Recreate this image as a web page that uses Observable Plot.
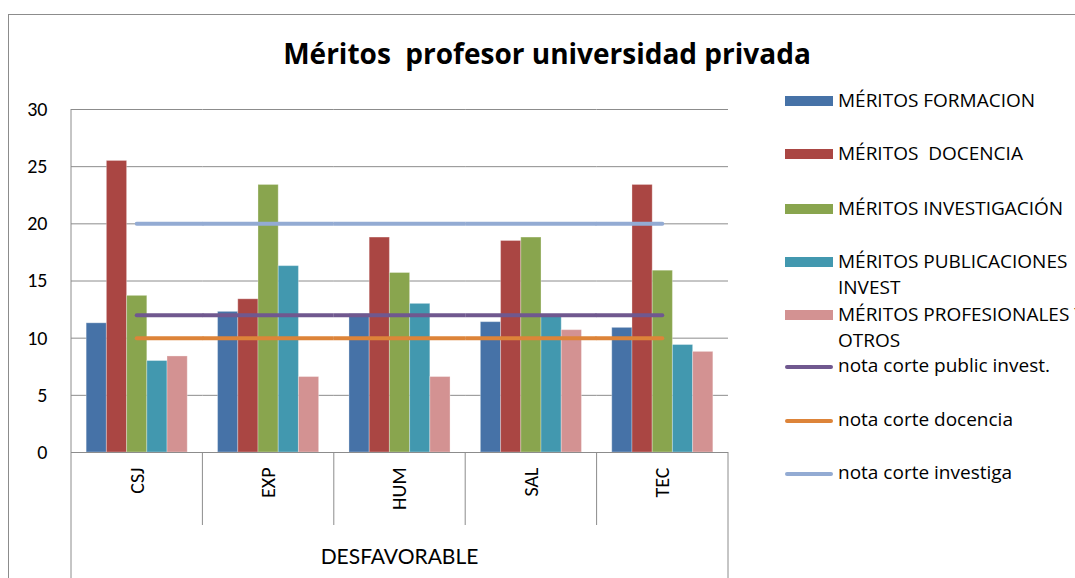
<!DOCTYPE html>
<html><head><meta charset="utf-8">
<script src="https://cdn.jsdelivr.net/npm/d3@7"></script>
<script src="https://cdn.jsdelivr.net/npm/@observablehq/plot@0.6"></script>
<style>
body{margin:0;background:#fff;font-family:Carlito,Lato,"Open Sans",sans-serif;color:#000;}
#wrap{position:relative;width:1075px;height:578px;overflow:hidden;background:#fff;}
#border{position:absolute;left:8px;top:14px;width:1300px;height:800px;border:1px solid #8c8c8c;}
#title{position:absolute;top:39px;left:0;width:1094px;text-align:center;font-family:"Open Sans",sans-serif;font-weight:bold;font-size:28px;white-space:pre;line-height:28px;}
#chart{position:absolute;left:0;top:0;}
#group{position:absolute;left:71px;width:657px;top:543px;text-align:center;font-family:Lato,sans-serif;font-size:21px;line-height:26px;}
.leg{position:absolute;left:785px;font-family:"Open Sans",sans-serif;font-size:19px;white-space:pre;}
.sw{position:absolute;left:0;width:48px;}
.lt{position:absolute;left:53px;top:0;}
</style></head>
<body>
<div id="wrap">
  <div id="border"></div>
  <div id="chart"></div>
  <div id="title"></div>
  <div id="group"></div>
  <div id="legend"></div>
</div>
<script>
// ---- data ----
const categories = ["CSJ", "EXP", "HUM", "SAL", "TEC"];
const seriesNames = ["MÉRITOS FORMACION", "MÉRITOS  DOCENCIA", "MÉRITOS INVESTIGACIÓN", "MÉRITOS PUBLICACIONES INVEST", "MÉRITOS PROFESIONALES Y OTROS"];
const formacion     = [11.3, 12.3, 12.1, 11.4, 10.9];
const docencia      = [25.5, 13.4, 18.8, 18.5, 23.4];
const investigacion = [13.7, 23.4, 15.7, 18.8, 15.9];
const publicaciones = [8.0, 16.3, 13.0, 11.9, 9.4];
const profesionales = [8.4, 6.6, 6.6, 10.7, 8.8];
const lineNames  = ["nota corte public invest.", "nota corte docencia", "nota corte investiga"];
const lineValues = [12, 10, 20];
const yTicks = [0, 5, 10, 15, 20, 25, 30];
const groupLabel = "DESFAVORABLE";
const titleText = "Méritos  profesor universidad privada";
const legendLines = [["MÉRITOS FORMACION"], ["MÉRITOS  DOCENCIA"], ["MÉRITOS INVESTIGACIÓN"], ["MÉRITOS PUBLICACIONES", "INVEST"], ["MÉRITOS PROFESIONALES Y", "OTROS"]];

// ---- styles ----
const barColors = ["#4672A7", "#AA4643", "#89A54E", "#4298AF", "#D39292"];
const lineColors = ["#70588F", "#DD8439", "#93ABD3"];

const seriesValues = [formacion, docencia, investigacion, publicaciones, profesionales];
const barRows = [];
categories.forEach((c, i) => seriesNames.forEach((s, j) => barRows.push({cat: c, series: s, value: seriesValues[j][i]})));
const ruleRows = [];
lineNames.forEach((n, k) => categories.forEach((c, i) => ruleRows.push({cat: c, name: n, value: lineValues[k], pos: i})));
const last = categories.length - 1;
const midSeries = seriesNames[Math.floor(seriesNames.length / 2)];

const W = 750, H = 578, mL = 71, mR = 22, mT = 109, mB = 126;
const facetW = (W - mL - mR) / categories.length;
const outerPad = 0.75;
const bw = facetW / (seriesNames.length + 2 * outerPad);
const grid = "#8c8c8c";
const lineStyle = {fx: "cat", y: "value", stroke: "name", strokeWidth: 4, strokeLinecap: "round"};

const chart = Plot.plot({
  width: W, height: H,
  marginLeft: mL, marginRight: mR, marginTop: mT, marginBottom: mB,
  style: {fontFamily: "Carlito, Lato, 'Open Sans', sans-serif", color: "#000", background: "transparent"},
  fx: {domain: categories, padding: 0, round: false},
  x: {domain: seriesNames, paddingInner: 0, paddingOuter: outerPad, round: false, axis: null},
  y: {domain: [0, 30]},
  color: {domain: [...seriesNames, ...lineNames], range: [...barColors, ...lineColors]},
  marks: [
    Plot.gridY(yTicks, {stroke: grid, strokeOpacity: 1}),
    Plot.barY(barRows, {fx: "cat", x: "series", y: "value", fill: "series", stroke: "white", strokeOpacity: 0.3, strokeWidth: 1}),
    Plot.ruleY(ruleRows.filter(d => d.pos > 0 && d.pos < last), {...lineStyle, strokeLinecap: "butt"}),
    Plot.ruleY(ruleRows.filter(d => d.pos === 0), {...lineStyle, x1: () => midSeries, x2: () => seriesNames[seriesNames.length - 1], insetLeft: bw / 2, insetRight: -outerPad * bw}),
    Plot.ruleY(ruleRows.filter(d => d.pos === last), {...lineStyle, x1: () => seriesNames[0], x2: () => midSeries, insetLeft: -outerPad * bw, insetRight: bw / 2}),
    Plot.ruleY([0], {stroke: grid}),
    Plot.axisY(yTicks, {tickSize: 0, tickPadding: 24, fontSize: 20, label: null}),
    Plot.axisFx({anchor: "bottom", tickSize: 0, tickRotate: -90, tickPadding: 15, fontSize: 20, label: null})
  ]
});
document.getElementById("chart").appendChild(chart);

// structural lines of the category table, positioned from Plot's own scales
const fxS = chart.scale("fx"), yS = chart.scale("y");
const y0 = yS.apply(0), yTop = yS.apply(30);
const xl = fxS.apply(categories[0]), xr = fxS.apply(categories[last]) + fxS.bandwidth;
const g = d3.select(chart).append("g").attr("stroke", grid).attr("stroke-width", 1);
g.append("line").attr("x1", xl).attr("x2", xl).attr("y1", yTop).attr("y2", H);
g.append("line").attr("x1", xr).attr("x2", xr).attr("y1", y0).attr("y2", H);
categories.slice(1).forEach(c => {
  const x = fxS.apply(c);
  g.append("line").attr("x1", x).attr("x2", x).attr("y1", y0).attr("y2", y0 + 73);
});

document.getElementById("title").textContent = titleText;
document.getElementById("group").textContent = groupLabel;

// legend (Open Sans 19px: baseline offset depends on line-height)
const fs = 19;
const baseOff = lh => (lh - 1.362 * fs) / 2 + 1.069 * fs;
const legend = document.getElementById("legend");
const capCenters = [101, 154, 209, 262, 315];
const lineCenters = [367, 421, 474];
legendLines.forEach((lines, i) => {
  const lh = 26;
  const c = baseOff(lh) - 0.714 * fs / 2;
  const d = document.createElement("div");
  d.className = "leg";
  d.style.top = (capCenters[i] - c) + "px";
  d.style.lineHeight = lh + "px";
  d.innerHTML = `<div class="sw" style="top:${c - 5}px;height:10px;background:${barColors[i]}"></div><div class="lt">${lines.join("<br>")}</div>`;
  legend.appendChild(d);
});
lineNames.forEach((n, k) => {
  const lh = 20;
  const c = baseOff(lh) - 0.535 * fs / 2;
  const d = document.createElement("div");
  d.className = "leg";
  d.style.top = (lineCenters[k] - c) + "px";
  d.style.lineHeight = lh + "px";
  d.innerHTML = `<div class="sw" style="top:${c - 2}px;height:4px;border-radius:2px;background:${lineColors[k]}"></div><div class="lt">${n}</div>`;
  legend.appendChild(d);
});
</script>
</body></html>
